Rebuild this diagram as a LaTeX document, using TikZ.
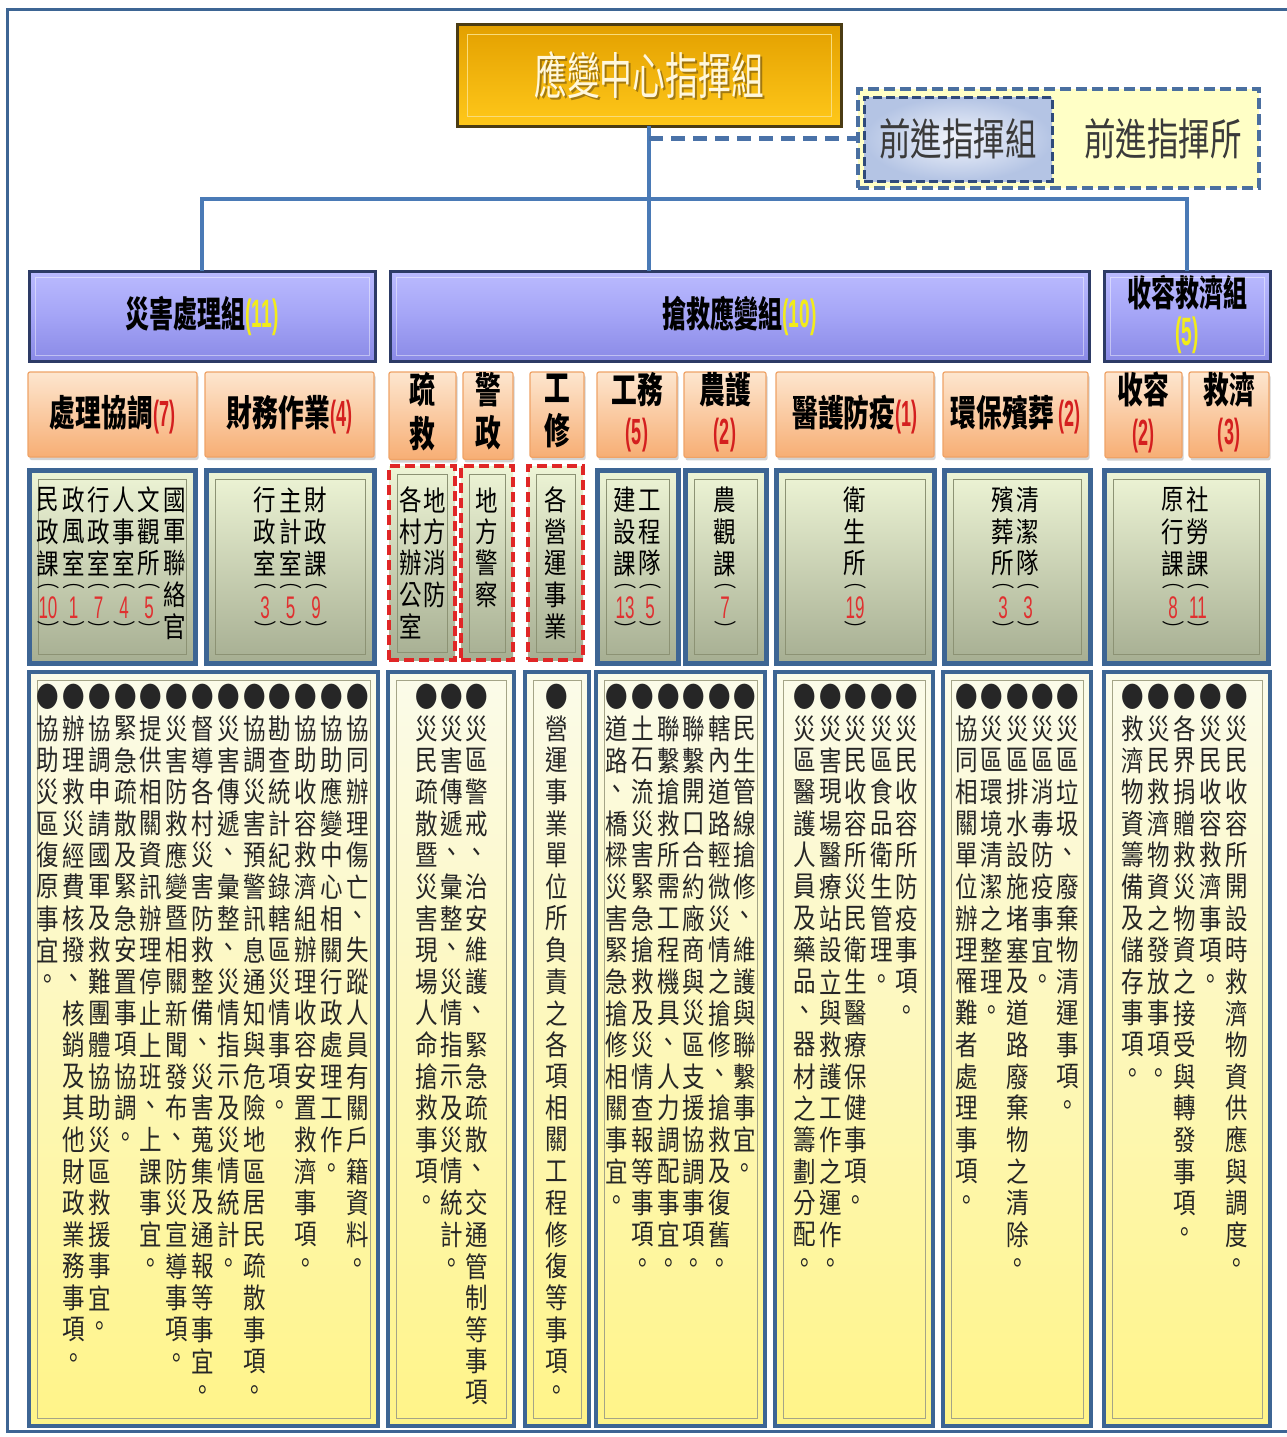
\documentclass[tikz,border=0pt]{standalone}
\usepackage{fontspec}
\usepackage{graphicx}
\setmainfont{Noto Sans CJK TC}
\newfontfamily\numf{Liberation Sans}
\usetikzlibrary{calc,shadows}
\definecolor{frameblue}{HTML}{3D6594}
\definecolor{linkblue}{HTML}{4A7AB6}
\definecolor{bodytext}{HTML}{262626}
\definecolor{numred}{HTML}{E03030}
\definecolor{hdred}{HTML}{D41F1F}
\definecolor{yel}{HTML}{F2EC1A}
\definecolor{fwdtext}{HTML}{3A3A3A}
\definecolor{goldtop}{HTML}{E3A000}
\definecolor{goldbot}{HTML}{FFC81A}
\definecolor{goldline}{HTML}{4B3C14}
\definecolor{goldin}{HTML}{F9DC7A}
\definecolor{titlesh}{HTML}{5E4510}
\definecolor{titletx}{HTML}{FFF7DC}
\definecolor{purtop}{HTML}{BBBBFF}
\definecolor{purmid}{HTML}{A4A4F6}
\definecolor{purbot}{HTML}{8A8AE6}
\definecolor{purline}{HTML}{2D3B66}
\definecolor{ortop}{HTML}{FDE6CF}
\definecolor{orbot}{HTML}{F7AE74}
\definecolor{orline}{HTML}{EFA367}
\definecolor{grtop}{HTML}{EEF5D6}
\definecolor{grbot}{HTML}{A6AE92}
\definecolor{dashred}{HTML}{E02626}
\definecolor{yltop}{HTML}{FBFBEA}
\definecolor{ylbot}{HTML}{FFF488}
\definecolor{fwdfill}{HTML}{FFFFC6}
\definecolor{fwdline}{HTML}{4A6FA0}
\definecolor{fwdinc}{HTML}{F2F5FC}
\definecolor{fwdoutc}{HTML}{B4C4E4}
\definecolor{fwdinline}{HTML}{2F4A7A}
\definecolor{grinline}{HTML}{8C9274}
\definecolor{ylinline}{HTML}{A4A487}
\definecolor{dlinkc}{HTML}{4A72A8}

\newlength\cw \setlength\cw{22.5pt}
\newlength\rh \setlength\rh{25.3pt}
\def\vstop{VSTOP}
\def\vloop#1{\ifx\vstop#1\else\vcell{#1}\expandafter\vloop\fi}
\newcommand\vcell[1]{\vbox to\rh{\vss\hbox to\cw{\hss#1\hss}\vss}}
\newcommand\vch[1]{\vloop#1\vstop}
\newcommand\vcolumn[1]{\scalebox{1}[1.25]{\vbox{\offinterlineskip#1}}}
\newcommand\vnum[1]{\vbox to .45\rh{\vss\hbox to\cw{\hss\scalebox{1}[0.6]{︵}\hss}\vss}%
  \vbox to .9\rh{\vss\hbox to\cw{\hss{\color{numred}\numf\fontsize{25}{25}\selectfont\scalebox{0.68}[1]{#1}}\hss}\vss}%
  \vbox to .45\rh{\vss\hbox to\cw{\hss\scalebox{1}[0.6]{︶}\hss}\vss}}

\newcommand\onum[1]{{\color{hdred}\numf\bfseries\scalebox{0.7}[1]{#1}}}
\newcommand\ohd[2]{\scalebox{0.92}[1.3]{\fontsize{28}{28}\selectfont\bfseries #1\onum{#2}}}
\newcommand\two[2]{\scalebox{0.92}[1.3]{\fontsize{28}{32}\selectfont\bfseries\begin{tabular}{@{}c@{}}#1\\#2\end{tabular}}}
\newcommand\phd[2]{\scalebox{0.8}[1.2]{\fontsize{30}{30}\selectfont\bfseries #1{\color{yel}\numf\bfseries\scalebox{0.8}[1.1]{#2}}}}
\newcommand\ttl{\scalebox{0.82}[1.25]{\fontsize{40}{40}\selectfont 應變中心指揮組}}
\newcommand\fwt[1]{\scalebox{0.9}[1.25]{\fontsize{35}{35}\selectfont\color{fwdtext}#1}}

\newcommand\mkbox[7]{\node[#1, minimum width={(#5-#3)*1pt}, minimum height={(#6-#4)*1pt}] (#2) at (#3,#4) {#7};}
\newcommand\inset[3]{\draw[#3] ($(#1.north west)+(#2,#2)$) rectangle ($(#1.south east)+(-#2,-#2)$);}
\newcommand\bcol[3]{\node[body] (#1) at (#2,681) {\vcolumn{\vch{●#3}}};}

\tikzset{
  box/.style={anchor=north west, inner sep=0pt, outer sep=0pt},
  goldbox/.style={box, top color=goldtop, bottom color=goldbot, draw=goldline, line width=3pt},
  purplebox/.style={box, top color=purtop, bottom color=purbot, middle color=purmid, draw=purline, line width=3pt},
  orangebox/.style={box, rounded corners=2pt, top color=ortop, bottom color=orbot, draw=orline, line width=1.2pt, drop shadow={shadow xshift=1.5pt, shadow yshift=-3pt, opacity=.35}},
  greenbox/.style={box, top color=grtop, bottom color=grbot, draw=frameblue, line width=5pt},
  reddash/.style={box, top color=grtop, bottom color=grbot, draw=dashred, line width=4pt, dash pattern=on 10pt off 5pt},
  yelbox/.style={box, top color=yltop, bottom color=ylbot, draw=frameblue, line width=4pt},
  fwdout/.style={box, fill=fwdfill, draw=fwdline, line width=4pt, dash pattern=on 11pt off 5pt},
  fwdin/.style={box, inner color=fwdinc, outer color=fwdoutc, draw=fwdinline, line width=3pt, dash pattern=on 9pt off 4pt},
  inline/.style={draw=grinline, line width=1pt},
  yinline/.style={draw=ylinline, line width=0.9pt},
  link/.style={draw=linkblue, line width=3.5pt},
  dlink/.style={draw=dlinkc, line width=5pt, dash pattern=on 14pt off 8pt},
  body/.style={inner sep=0pt, anchor=north, text=bodytext, font=\fontsize{22.5}{22.5}\selectfont},
  lthree/.style={inner sep=0pt, anchor=north, text=black, font=\fontsize{22.5}{22.5}\selectfont},
}

\begin{document}
\begin{tikzpicture}[x=1pt,y=-1pt]
\useasboundingbox (0,0) rectangle (1287,1437);
\fill[white] (0,0) rectangle (1287,1437);
\draw[draw=frameblue, line width=3pt] (7,10) rectangle (1300,1431);

% top
\mkbox{goldbox}{title}{457}{25}{841}{126}{}
\inset{title}{10}{draw=goldin, line width=1pt}
\node[text=titlesh, opacity=.55, inner sep=0pt] (titleshadow) at ($(title.center)+(2,2)$) {\ttl};
\node[text=titletx, inner sep=0pt] (titletext) at (title.center) {\ttl};

\mkbox{fwdout}{fwd}{858}{89}{1259}{188}{}
\mkbox{fwdin}{fwdg}{864}{97}{1052}{181}{\fwt{前進指揮組}}
\node[inner sep=0pt] (fwdp) at (1163,138.5) {\fwt{前進指揮所}};

% level 1
\mkbox{purplebox}{g1}{29}{271}{375}{361}{\phd{災害處理組}{(11)}}
\mkbox{purplebox}{g2}{390}{271}{1089}{361}{\phd{搶救應變組}{(10)}}
\mkbox{purplebox}{g3}{1104}{271}{1270}{361}{\scalebox{0.8}[1.2]{\fontsize{30}{31}\selectfont\bfseries\begin{tabular}{@{}c@{}}收容救濟組\\{\color{yel}\numf\bfseries\scalebox{0.8}[1.1]{(5)}}\end{tabular}}}
\foreach \g in {g1,g2,g3} {\inset{\g}{6}{draw=white, opacity=.45, line width=1pt}}

% connectors
\coordinate (bar) at (649,199);
\draw[link] (title.south) -- (title.south |- g2.north);
\draw[link] (g1.north) |- (bar) -| (g3.north);
\draw[dlink] (title.south |- fwd.west) -- (fwd.west);

% level 2
\mkbox{orangebox}{o1}{28}{372}{197}{457}{\ohd{處理協調}{(7)}}
\mkbox{orangebox}{o2}{205}{372}{374}{457}{\ohd{財務作業}{(4)}}
\mkbox{orangebox}{o3}{389}{372}{456}{457}{\two{疏}{救}}
\mkbox{orangebox}{o4}{463}{372}{513}{457}{\two{警}{政}}
\mkbox{orangebox}{o5}{530}{372}{584}{457}{\two{工}{修}}
\mkbox{orangebox}{o6}{597}{372}{677}{457}{\two{工務}{\onum{(5)}}}
\mkbox{orangebox}{o7}{684}{372}{766}{457}{\two{農護}{\onum{(2)}}}
\mkbox{orangebox}{o8}{776}{372}{934}{457}{\ohd{醫護防疫}{(1)}}
\mkbox{orangebox}{o9}{943}{372}{1088}{457}{\ohd{環保殯葬\,}{(2)}}
\mkbox{orangebox}{o10}{1105}{372}{1182}{457}{\two{收容}{\onum{(2)}}}
\mkbox{orangebox}{o11}{1189}{372}{1269}{457}{\two{救濟}{\onum{(3)}}}

% level 3
\mkbox{greenbox}{s1}{29}{470}{195}{663}{}
\mkbox{greenbox}{s2}{206}{470}{374}{663}{}
\mkbox{reddash}{s3}{389}{466}{455}{660}{}
\mkbox{reddash}{s4}{461}{466}{513}{660}{}
\mkbox{reddash}{s5}{528}{466}{583}{660}{}
\mkbox{greenbox}{s6}{597}{470}{678}{663}{}
\mkbox{greenbox}{s7}{685}{470}{766}{663}{}
\mkbox{greenbox}{s8}{776}{470}{934}{663}{}
\mkbox{greenbox}{s9}{944}{470}{1090}{663}{}
\mkbox{greenbox}{s10}{1104}{470}{1268}{663}{}
\foreach \s in {s1,s2,s6,s7,s8,s9,s10} {\inset{\s}{9}{inline}}
\foreach \s in {s3,s4,s5} {\inset{\s}{8}{inline}}

\node[lthree] (t1) at (48,484) {\vcolumn{\vch{民政課}\vnum{10}}};
\node[lthree] (t2) at (73.5,484) {\vcolumn{\vch{政風室}\vnum{1}}};
\node[lthree] (t3) at (98.5,484) {\vcolumn{\vch{行政室}\vnum{7}}};
\node[lthree] (t4) at (124,484) {\vcolumn{\vch{人事室}\vnum{4}}};
\node[lthree] (t5) at (149,484) {\vcolumn{\vch{文觀所}\vnum{5}}};
\node[lthree] (t6) at (175,484) {\vcolumn{\vch{國軍聯絡官}}};
\node[lthree] (t7) at (265,484) {\vcolumn{\vch{行政室}\vnum{3}}};
\node[lthree] (t8) at (290.5,484) {\vcolumn{\vch{主計室}\vnum{5}}};
\node[lthree] (t9) at (316,484) {\vcolumn{\vch{財政課}\vnum{9}}};
\node[lthree] (t10) at (411,484) {\vcolumn{\vch{各村辦公室}}};
\node[lthree] (t11) at (435,484) {\vcolumn{\vch{地方消防}}};
\node[lthree] (t12) at (487,484) {\vcolumn{\vch{地方警察}}};
\node[lthree] (t13) at (556,484) {\vcolumn{\vch{各營運事業}}};
\node[lthree] (t14) at (625,484) {\vcolumn{\vch{建設課}\vnum{13}}};
\node[lthree] (t15) at (650,484) {\vcolumn{\vch{工程隊}\vnum{5}}};
\node[lthree] (t16) at (725,484) {\vcolumn{\vch{農觀課}\vnum{7}}};
\node[lthree] (t17) at (855,484) {\vcolumn{\vch{衛生所}\vnum{19}}};
\node[lthree] (t18) at (1003,484) {\vcolumn{\vch{殯葬所}\vnum{3}}};
\node[lthree] (t19) at (1028,484) {\vcolumn{\vch{清潔隊}\vnum{3}}};
\node[lthree] (t20) at (1173,484) {\vcolumn{\vch{原行課}\vnum{8}}};
\node[lthree] (t21) at (1198,484) {\vcolumn{\vch{社勞課}\vnum{11}}};

% level 4
\mkbox{yelbox}{b1}{29}{672}{378}{1426}{}
\mkbox{yelbox}{b2}{388}{672}{514}{1426}{}
\mkbox{yelbox}{b3}{525}{672}{589}{1426}{}
\mkbox{yelbox}{b4}{596}{672}{765}{1426}{}
\mkbox{yelbox}{b5}{775}{672}{933}{1426}{}
\mkbox{yelbox}{b6}{943}{672}{1091}{1426}{}
\mkbox{yelbox}{b7}{1104}{672}{1270}{1426}{}
\foreach \b in {b1,b2,b3,b4,b5,b6,b7} {\inset{\b}{8}{yinline}}

\bcol{a1}{357.6}{協同辦理傷亡、失蹤人員有關戶籍資料。}
\bcol{a2}{331.8}{協助應變中心相關行政處理工作。}
\bcol{a3}{306}{協助收容救濟組辦理收容安置救濟事項。}
\bcol{a4}{280.2}{勘查統計紀錄轄區災情事項。}
\bcol{a5}{254.4}{協調災害預警訊息通知與危險地區居民疏散事項。}
\bcol{a6}{228.6}{災害傳遞、彙整、災情指示及災情統計。}
\bcol{a7}{202.8}{督導各村災害防救整備、災害蒐集及通報等事宜。}
\bcol{a8}{177}{災害防救應變暨相關新聞發布、防災宣導事項。}
\bcol{a9}{151.2}{提供相關資訊辦理停止上班、上課事宜。}
\bcol{a10}{125.4}{緊急疏散及緊急安置事項協調。}
\bcol{a11}{99.6}{協調申請國軍及救難團體協助災區救援事宜。}
\bcol{a12}{73.8}{辦理救災經費核撥、核銷及其他財政業務事項。}
\bcol{a13}{48}{協助災區復原事宜。}

\bcol{c1}{477}{災區警戒、治安維護、緊急疏散、交通管制等事項}
\bcol{c2}{452}{災害傳遞、彙整、災情指示及災情統計。}
\bcol{c3}{427}{災民疏散暨災害現場人命搶救事項。}

\bcol{d1}{557}{營運事業單位所負責之各項相關工程修復等事項。}

\bcol{e1}{745}{民生管線搶修、維護與聯繫事宜。}
\bcol{e2}{719.6}{轄內道路輕微災情之搶修、搶救及復舊。}
\bcol{e3}{694}{聯繫開口合約廠商與災區支援協調事項。}
\bcol{e4}{668.4}{聯繫搶救所需工程機具、人力調配事宜。}
\bcol{e5}{642.8}{土石流災害緊急搶救及災情查報等事項。}
\bcol{e6}{617}{道路、橋樑災害緊急搶修相關事宜。}

\bcol{f1}{907}{災民收容所防疫事項。}
\bcol{f2}{881.5}{災區食品衛生管理。}
\bcol{f3}{856}{災民收容所災民衛生醫療保健事項。}
\bcol{f4}{830.5}{災害現場醫療站設立與救護工作之運作。}
\bcol{f5}{805}{災區醫護人員及藥品、器材之籌劃分配。}

\bcol{h1}{1068}{災區垃圾、廢棄物清運事項。}
\bcol{h2}{1042.8}{災區消毒防疫事宜。}
\bcol{h3}{1017.5}{災區排水設施堵塞及道路廢棄物之清除。}
\bcol{h4}{992.2}{災區環境清潔之整理。}
\bcol{h5}{967}{協同相關單位辦理罹難者處理事項。}

\bcol{k1}{1237}{災民收容所開設時救濟物資供應與調度。}
\bcol{k2}{1211}{災民收容救濟事項。}
\bcol{k3}{1185}{各界捐贈救災物資之接受與轉發事項。}
\bcol{k4}{1159}{災民救濟物資之發放事項。}
\bcol{k5}{1133}{救濟物資籌備及儲存事項。}
\end{tikzpicture}
\end{document}
